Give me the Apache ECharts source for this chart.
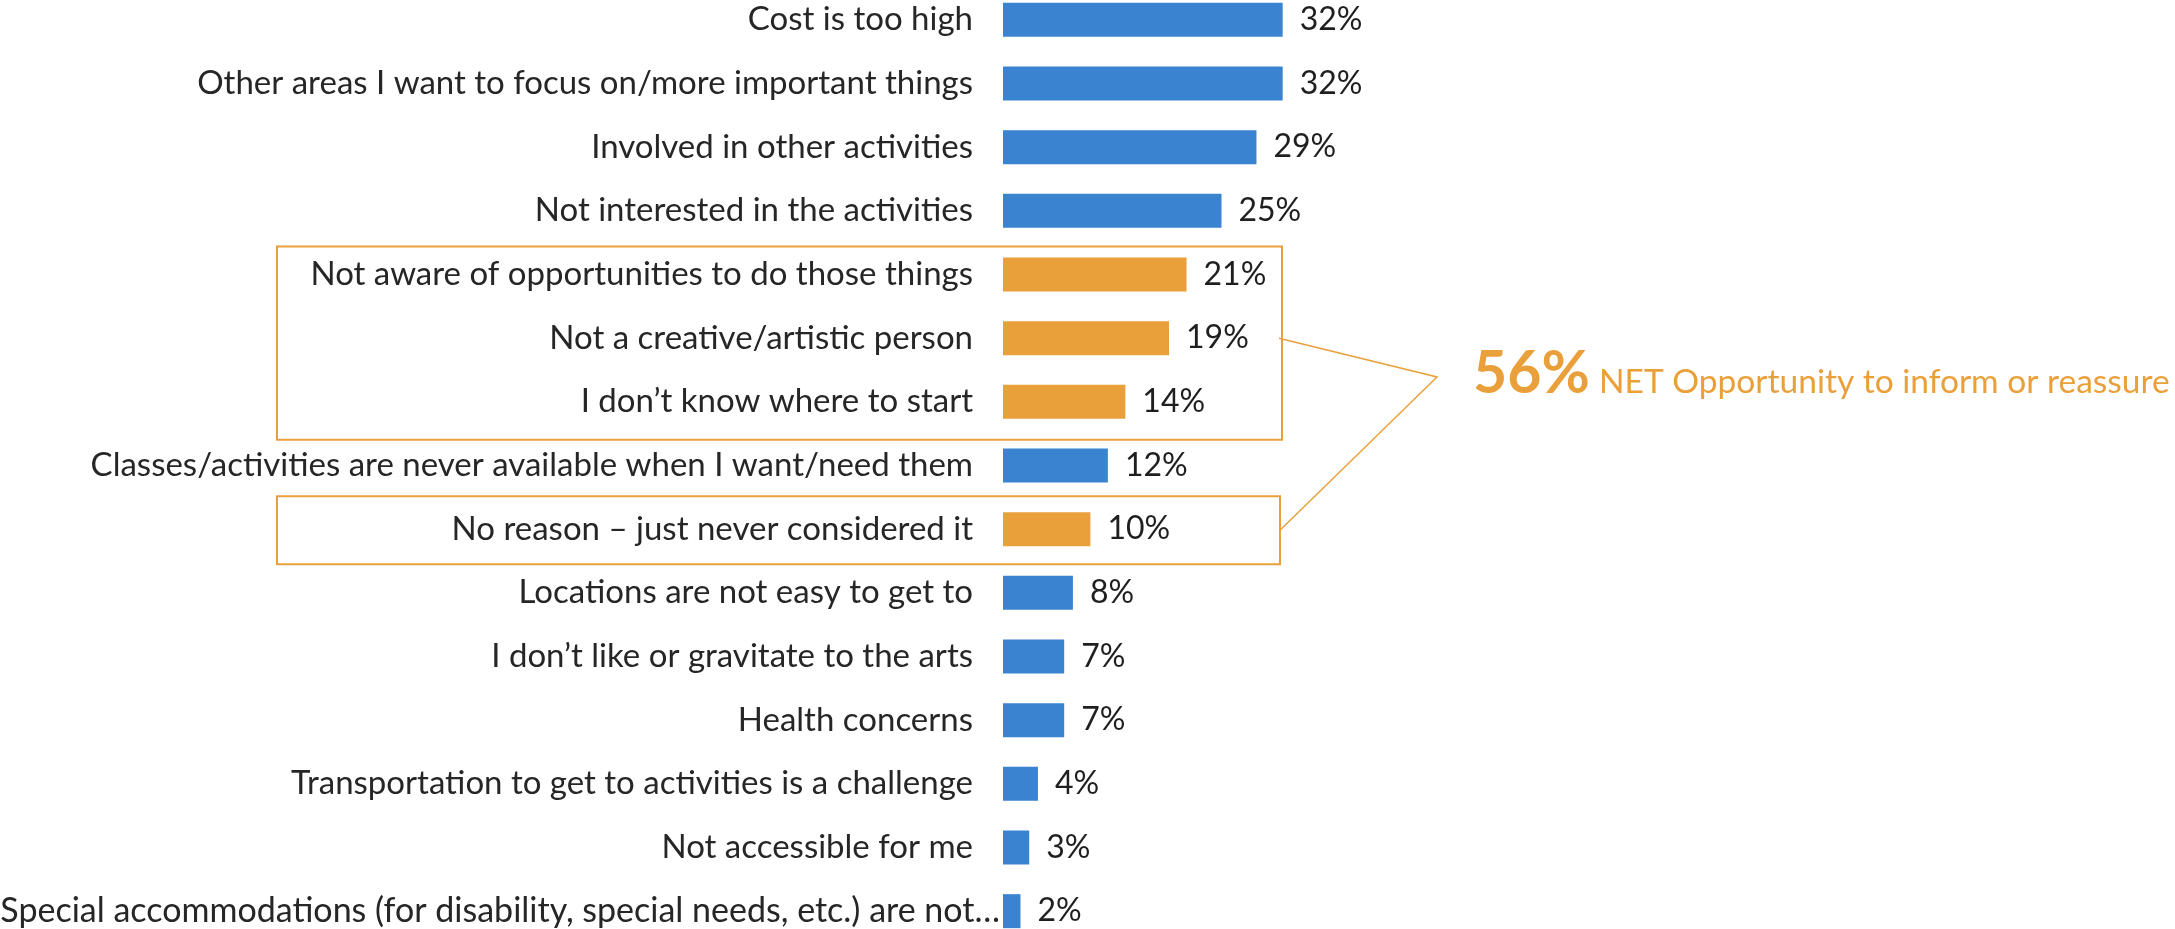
<!DOCTYPE html>
<html>
<head>
<meta charset="utf-8">
<script src="https://cdn.jsdelivr.net/npm/echarts@6/dist/echarts.min.js"></script>
<style>
  html, body { margin: 0; padding: 0; background: #ffffff; }
  #chart { width: 2175px; height: 929px; }
</style>
</head>
<body>
<div id="chart"></div>
<script>
// Reasons for not taking part in arts activities (share of respondents, %)
const categories = [
  'Cost is too high',
  'Other areas I want to focus on/more important things',
  'Involved in other activities',
  'Not interested in the activities',
  'Not aware of opportunities to do those things',
  'Not a creative/artistic person',
  'I don\u2019t know where to start',
  'Classes/activities are never available when I want/need them',
  'No reason \u2013 just never considered it',
  'Locations are not easy to get to',
  'I don\u2019t like or gravitate to the arts',
  'Health concerns',
  'Transportation to get to activities is a challenge',
  'Not accessible for me',
  'Special accommodations (for disability, special needs, etc.) are not\u2026'
];
const values = [32, 32, 29, 25, 21, 19, 14, 12, 10, 8, 7, 7, 4, 3, 2];
// Reasons that form the "opportunity to inform or reassure" group
const opportunityGroup = [
  'Not aware of opportunities to do those things',
  'Not a creative/artistic person',
  'I don\u2019t know where to start',
  'No reason \u2013 just never considered it'
];
const netValue = 56;
const netLabel = 'NET Opportunity to inform or reassure';

const BLUE = '#3A83D0';
const ORANGE = '#EAA03A';
const FONT = 'Lato';

const chart = echarts.init(document.getElementById('chart'), null, { renderer: 'canvas' });

const lastIndex = categories.length - 1;

chart.setOption({
  backgroundColor: '#ffffff',
  animation: false,
  grid: {
    left: 1003,
    right: 298,
    top: -12,
    bottom: -14,
    containLabel: false,
    outerBoundsMode: 'none'
  },
  xAxis: {
    type: 'value',
    min: 0,
    max: 100,
    show: false
  },
  yAxis: {
    type: 'category',
    inverse: true,
    data: categories,
    axisLine: { show: false },
    axisTick: { show: false },
    splitLine: { show: false },
    axisLabel: {
      margin: 3,
      // the clipped last label runs right up to its bar
      formatter: (v, i) => (i === lastIndex ? '{last|' + v + '}' : '{std|' + v + '}'),
      rich: {
        std: { fontFamily: FONT, fontSize: 33, color: '#262626', padding: [0, 27, 0, 0] },
        last: { fontFamily: FONT, fontSize: 34, color: '#262626' }
      }
    }
  },
  series: [{
    type: 'bar',
    barWidth: 34,
    data: categories.map((c, i) => ({
      value: values[i],
      itemStyle: { color: opportunityGroup.includes(c) ? ORANGE : BLUE }
    })),
    label: {
      show: true,
      position: 'right',
      distance: 17,
      formatter: (p) => p.value + '%',
      fontFamily: FONT,
      fontSize: 32,
      color: '#1f1f1f'
    }
  }]
});

// Callout boxes, connector and the NET annotation, placed from the category axis
function rowY(name) {
  return chart.convertToPixel({ yAxisIndex: 0 }, name);
}
const idx = opportunityGroup.map(n => categories.indexOf(n));
const firstRun = idx.slice(0, 3);
const loneRow = idx[3];

const boxLeft = 277;
const boxRight = 1282;
const box1Top = rowY(categories[firstRun[0]]) - 28;
const box1Bottom = rowY(categories[firstRun[2]]) + 38;
const box2Top = rowY(categories[loneRow]) - 33;
const box2Bottom = rowY(categories[loneRow]) + 35;

const apex = [1437, 377];
const lineStart = [boxRight - 3, rowY(categories[firstRun[1]])];
const lineEnd = [boxRight - 1, rowY(categories[loneRow])];

chart.setOption({
  graphic: [
    {
      type: 'rect',
      shape: { x: boxLeft, y: box1Top, width: boxRight - boxLeft, height: box1Bottom - box1Top },
      style: { fill: 'none', stroke: ORANGE, lineWidth: 2 },
      silent: true
    },
    {
      type: 'rect',
      shape: { x: boxLeft, y: box2Top, width: boxRight - boxLeft - 2, height: box2Bottom - box2Top },
      style: { fill: 'none', stroke: ORANGE, lineWidth: 2 },
      silent: true
    },
    {
      type: 'polyline',
      shape: { points: [lineStart, apex, lineEnd] },
      style: { fill: 'none', stroke: ORANGE, lineWidth: 1.5 },
      silent: true
    },
    {
      type: 'text',
      x: 1473,
      y: 374,
      style: {
        text: netValue + '%',
        fontFamily: FONT,
        fontWeight: 'bold',
        fontSize: 59,
        fill: ORANGE,
        align: 'left',
        verticalAlign: 'middle'
      },
      silent: true
    },
    {
      type: 'text',
      x: 1599,
      y: 382,
      style: {
        text: netLabel,
        fontFamily: FONT,
        fontSize: 33.5,
        fill: ORANGE,
        align: 'left',
        verticalAlign: 'middle'
      },
      silent: true
    }
  ]
});
</script>
</body>
</html>
